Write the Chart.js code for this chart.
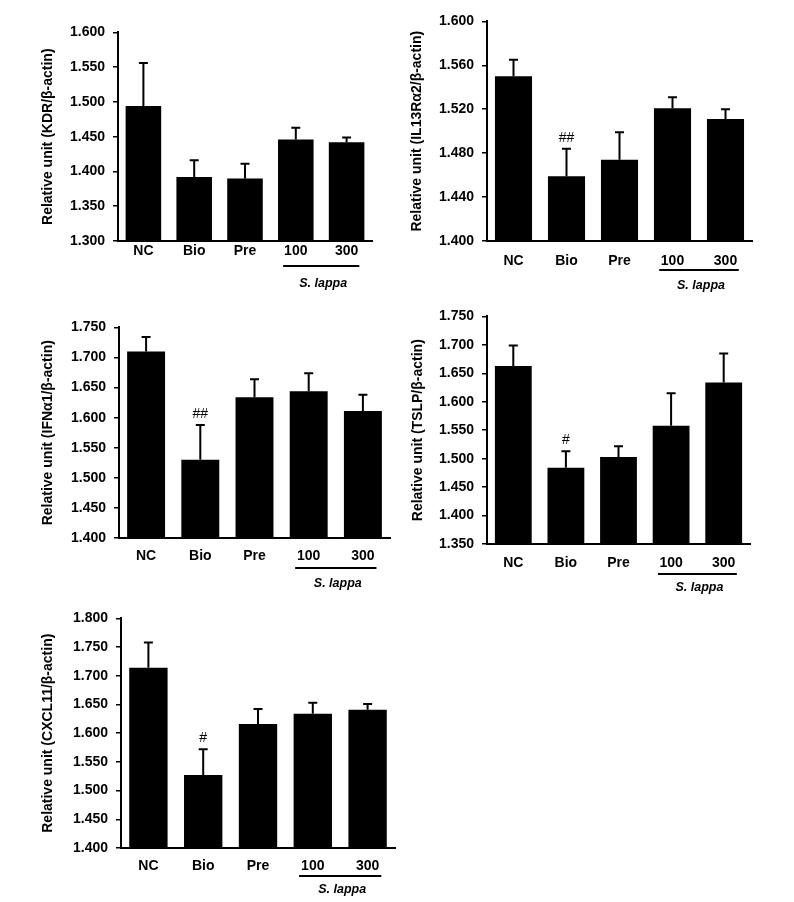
<!DOCTYPE html>
<html>
<head>
<meta charset="utf-8">
<script src="https://cdn.jsdelivr.net/npm/chart.js@4.4.1/dist/chart.umd.min.js"></script>
<style>
  html, body { margin: 0; padding: 0; background: #fff; }
  body { width: 794px; height: 902px; position: relative; overflow: hidden; }
  canvas { position: absolute; }
</style>
</head>
<body>
<canvas id="kdr"></canvas>
<canvas id="il13"></canvas>
<canvas id="ifn"></canvas>
<canvas id="tslp"></canvas>
<canvas id="cxcl"></canvas>
<script>
/* ─── Data ─── */
const categories = ['NC', 'Bio', 'Pre', '100', '300'];

const kdrMeans = [1.494, 1.392, 1.390, 1.446, 1.442];
const kdrErrors = [0.062, 0.024, 0.021, 0.017, 0.007];
const kdrMarks = ['', '', '', '', ''];

const il13Means = [1.550, 1.459, 1.474, 1.521, 1.511];
const il13Errors = [0.015, 0.025, 0.025, 0.010, 0.009];
const il13Marks = ['', '##', '', '', ''];

const ifnMeans = [1.710, 1.530, 1.634, 1.644, 1.611];
const ifnErrors = [0.024, 0.058, 0.030, 0.030, 0.027];
const ifnMarks = ['', '##', '', '', ''];

const tslpMeans = [1.663, 1.484, 1.503, 1.558, 1.634];
const tslpErrors = [0.036, 0.029, 0.019, 0.057, 0.051];
const tslpMarks = ['', '#', '', '', ''];

const cxclMeans = [1.714, 1.527, 1.616, 1.634, 1.641];
const cxclErrors = [0.044, 0.045, 0.026, 0.019, 0.010];
const cxclMarks = ['', '#', '', '', ''];

const groupLabel = 'S. lappa';
const FONT = '"Liberation Sans", Arial, Helvetica, sans-serif';

/* ─── error bars, significance marks, S. lappa bracket ─── */
function extras(p) {
    return {
        id: 'extras',
        afterDatasetsDraw(chart) {
            const { ctx, scales: { x, y } } = chart;
            ctx.save();
            ctx.strokeStyle = '#000';
            ctx.fillStyle = '#000';
            ctx.lineWidth = 2;
            p.means.forEach(function (m, i) {
                const cx = x.getPixelForValue(i);
                const y0 = y.getPixelForValue(m);
                const y1 = y.getPixelForValue(m + p.errors[i]);
                ctx.beginPath();
                ctx.moveTo(cx, y0);
                ctx.lineTo(cx, y1);
                ctx.moveTo(cx - 4.5, y1);
                ctx.lineTo(cx + 4.5, y1);
                ctx.stroke();
                if (p.marks[i]) {
                    ctx.font = '14px ' + FONT;
                    ctx.textAlign = 'center';
                    ctx.textBaseline = 'middle';
                    ctx.fillText(p.marks[i], cx, y1 - 11);
                }
            });
            const step = x.getPixelForValue(1) - x.getPixelForValue(0);
            const ux0 = x.getPixelForValue(3) - 0.25 * step;
            const ux1 = x.getPixelForValue(4) + 0.25 * step;
            const uy = y.bottom + p.ul;
            ctx.beginPath();
            ctx.moveTo(ux0, uy);
            ctx.lineTo(ux1, uy);
            ctx.stroke();
            ctx.font = 'italic bold 12.5px ' + FONT;
            ctx.textAlign = 'center';
            ctx.textBaseline = 'middle';
            ctx.fillText(groupLabel, (ux0 + ux1) / 2 + 2, y.bottom + p.sl);
            ctx.restore();
        }
    };
}

function panel(id, p) {
    const YW = 85, TOPPAD = 16, RIGHTPAD = 14, XH = 58;
    const canvas = document.getElementById(id);
    const left = p.L - YW, top = p.T - TOPPAD;
    const w = p.R - left + RIGHTPAD, h = p.B - top + XH;
    canvas.width = w; canvas.height = h;
    canvas.style.left = left + 'px';
    canvas.style.top = top + 'px';
    canvas.style.width = w + 'px';
    canvas.style.height = h + 'px';

    new Chart(canvas.getContext('2d'), {
        type: 'bar',
        data: {
            labels: categories,
            datasets: [{
                data: p.means,
                backgroundColor: '#000',
                borderWidth: 0,
                categoryPercentage: 1,
                barPercentage: 0.7
            }]
        },
        options: {
            responsive: false,
            animation: false,
            events: [],
            layout: { padding: { top: TOPPAD, right: RIGHTPAD, left: 0, bottom: 0 } },
            plugins: { legend: { display: false }, tooltip: { enabled: false } },
            scales: {
                x: {
                    grid: { display: false, drawTicks: false },
                    border: { display: true, color: '#000', width: 2 },
                    ticks: {
                        color: '#000',
                        font: { family: FONT, size: 14, weight: 'bold' },
                        padding: p.labelPad,
                        maxRotation: 0
                    },
                    afterFit: function (s) { s.height = XH; }
                },
                y: {
                    min: p.min,
                    max: p.max,
                    grid: { drawOnChartArea: false, drawTicks: true, tickLength: 5, color: '#000', lineWidth: 1.5 },
                    border: { display: true, color: '#000', width: 2 },
                    ticks: {
                        stepSize: p.step,
                        color: '#000',
                        font: { family: FONT, size: 14, weight: 'bold' },
                        padding: 8,
                        callback: function (v) { return Number(v).toFixed(3); }
                    },
                    title: {
                        display: true,
                        text: p.title,
                        color: '#000',
                        font: { family: FONT, size: 14, weight: 'bold' },
                        padding: { top: p.titleX - left - 8.4, bottom: 0 }
                    },
                    afterFit: function (s) { s.width = YW; }
                }
            }
        },
        plugins: [extras(p)]
    });
}

panel('kdr', {
    means: kdrMeans, errors: kdrErrors, marks: kdrMarks,
    title: 'Relative unit (KDR/β-actin)', min: 1.3, max: 1.6, step: 0.05,
    L: 118, T: 32, R: 372, B: 241, titleX: 48, labelPad: 2, ul: 25, sl: 43
});
panel('il13', {
    means: il13Means, errors: il13Errors, marks: il13Marks,
    title: 'Relative unit (IL13Rα2/β-actin)', min: 1.4, max: 1.6, step: 0.04,
    L: 487, T: 21, R: 752, B: 241, titleX: 417, labelPad: 12, ul: 29, sl: 45
});
panel('ifn', {
    means: ifnMeans, errors: ifnErrors, marks: ifnMarks,
    title: 'Relative unit (IFNα1/β-actin)', min: 1.4, max: 1.75, step: 0.05,
    L: 119, T: 327, R: 390, B: 538, titleX: 48, labelPad: 10, ul: 30, sl: 46
});
panel('tslp', {
    means: tslpMeans, errors: tslpErrors, marks: tslpMarks,
    title: 'Relative unit (TSLP/β-actin)', min: 1.35, max: 1.75, step: 0.05,
    L: 487, T: 316, R: 750, B: 544, titleX: 418, labelPad: 11, ul: 30, sl: 44
});
panel('cxcl', {
    means: cxclMeans, errors: cxclErrors, marks: cxclMarks,
    title: 'Relative unit (CXCL11/β-actin)', min: 1.4, max: 1.8, step: 0.05,
    L: 121, T: 618, R: 395, B: 848, titleX: 48, labelPad: 10, ul: 28, sl: 42
});
</script>
</body>
</html>
